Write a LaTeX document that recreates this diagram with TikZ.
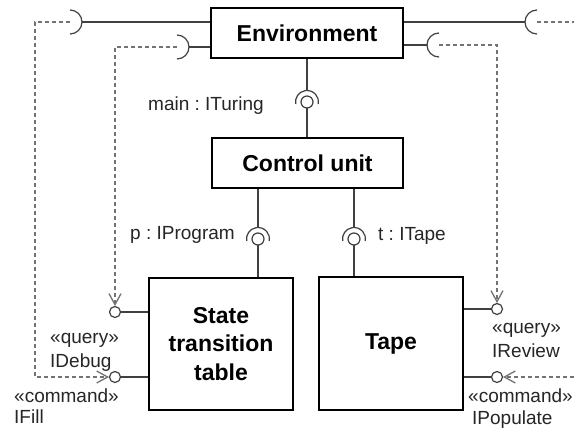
\documentclass[tikz,border=0pt]{standalone}
\usepackage{fontspec}
\setmainfont{Liberation Sans}
\usetikzlibrary{arrows.meta,calc}
\begin{document}
\frenchspacing
\begin{tikzpicture}[x=1pt,y=-1pt,
  comp/.style={draw=black, line width=1.3pt, fill=white, inner sep=0pt,
    font=\fontsize{23}{28.5}\selectfont\bfseries, align=center},
  wire/.style={draw=black!75, line width=1.2pt},
  depline/.style={draw=black!55, line width=1.1pt, dash pattern=on 4pt off 3pt},
  dep/.style={depline, -{Straight Barb[length=11pt,width=12pt,line width=1.3pt]}},
  ballst/.style={draw=black!75, line width=1.2pt, fill=white},
  lbl/.style={font=\fontsize{19}{23}\selectfont, text=black!85, inner sep=0pt, anchor=base west},
]
\useasboundingbox[fill=white] (0,0) rectangle (574,429);

% components
\node[comp, minimum width=192pt, minimum height=50pt] (env) at (307,33) {Environment};
\node[comp, minimum width=191pt, minimum height=50pt] (cu) at (307.5,163) {Control unit};
\node[comp, minimum width=144pt, minimum height=132pt] (stt) at (221,344) {State\\transition\\table};
\node[comp, minimum width=144pt, minimum height=133pt] (tape) at (391,343.5) {Tape};

% ball centres
\coordinate (mainb) at (307,102);
\coordinate (progb) at (258,239);
\coordinate (tapeb) at (354,239);
\coordinate (debugb) at (115,312);
\coordinate (fillb) at (115,377);
\coordinate (reviewb) at (497,309);
\coordinate (popb) at (497,377);
% side sockets of Environment
\coordinate (sL1) at (70,22);
\coordinate (sL2) at (177,47);
\coordinate (sR1) at (537,22);
\coordinate (sR2) at (439,45);
% free ends at the picture's edge
\coordinate (offR1) at (574,22);
\coordinate (offR2) at (574,377);

% assembly connectors (ball and socket)
\draw[wire] (mainb) -- (mainb |- cu.north);
\draw[wire] ($(mainb)+(0,-11.5)$) -- (mainb |- env.south);
\draw[ballst] (mainb) circle[radius=6];
\draw[wire] ($(mainb)+(170:11.5)$) arc[start angle=170, end angle=370, radius=11.5];

\draw[wire] (progb) -- (progb |- stt.north);
\draw[wire] ($(progb)+(0,-11.5)$) -- (progb |- cu.south);
\draw[ballst] (progb) circle[radius=6];
\draw[wire] ($(progb)+(170:11.5)$) arc[start angle=170, end angle=370, radius=11.5];

\draw[wire] (tapeb) -- (tapeb |- tape.north);
\draw[wire] ($(tapeb)+(0,-11.5)$) -- (tapeb |- cu.south);
\draw[ballst] (tapeb) circle[radius=6];
\draw[wire] ($(tapeb)+(170:11.5)$) arc[start angle=170, end angle=370, radius=11.5];

% environment side sockets
\draw[wire] ($(sL1)+(12,0)$) -- (sL1 -| env.west);
\draw[wire] ($(sL1)+(-90:12)$) arc[start angle=-90, end angle=90, radius=12];
\draw[wire] ($(sL2)+(12,0)$) -- (sL2 -| env.west);
\draw[wire] ($(sL2)+(-90:12)$) arc[start angle=-90, end angle=90, radius=12];
\draw[wire] ($(sR1)+(-12,0)$) -- (sR1 -| env.east);
\draw[wire] ($(sR1)+(90:12)$) arc[start angle=90, end angle=270, radius=12];
\draw[wire] ($(sR2)+(-12,0)$) -- (sR2 -| env.east);
\draw[wire] ($(sR2)+(90:12)$) arc[start angle=90, end angle=270, radius=12];

% provided interfaces (lollipops)
\draw[wire] (debugb) -- (debugb -| stt.west);
\draw[wire] (fillb) -- (fillb -| stt.west);
\draw[wire] (reviewb) -- (reviewb -| tape.east);
\draw[wire] (popb) -- (popb -| tape.east);

% delegation dependencies
\draw[dep] (sL1) -- (35,22) |- ($(fillb)+(-6,0)$);
\draw[dep] (sL2) -| ($(debugb)+(0,-6)$);
\draw[dep] (sR2) -| ($(reviewb)+(0,-6)$);
\draw[depline] (sR1) -- (offR1);
\draw[dep] (offR2) -- ($(popb)+(6,0)$);

\draw[ballst] (debugb) circle[radius=5.5];
\draw[ballst] (fillb) circle[radius=5.5];
\draw[ballst] (reviewb) circle[radius=5.5];
\draw[ballst] (popb) circle[radius=5.5];

% labels
\node[lbl] (lmain) at (148,110) {main : ITuring};
\node[lbl] (lprog) at (130,239) {p : IProgram};
\node[lbl] (ltape) at (378,240) {t : ITape};
\node[lbl] (lq1) at (50,343) {«query»};
\node[lbl] (ld) at (50,367) {IDebug};
\node[lbl] (lc1) at (14,402) {«command»};
\node[lbl] (lf) at (14,423) {IFill};
\node[lbl] (lq2) at (492,333) {«query»};
\node[lbl] (lr) at (492,357) {IReview};
\node[lbl] (lc2) at (468,402) {«command»};
\node[lbl] (lp) at (472,424) {IPopulate};
\end{tikzpicture}
\end{document}
